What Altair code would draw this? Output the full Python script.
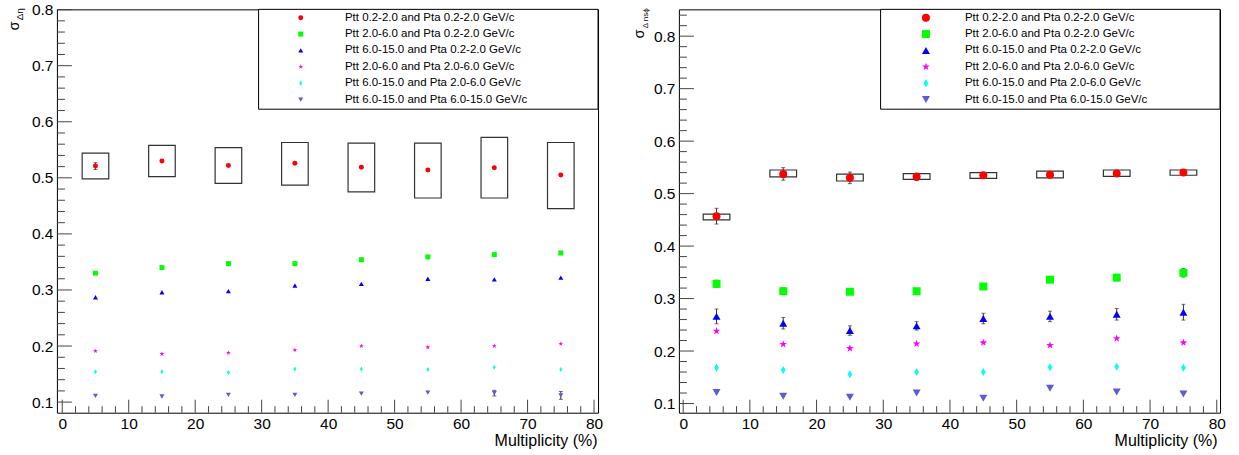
import altair as alt
import pandas as pd

FONT = "Liberation Sans"

MULT = [5, 15, 25, 35, 45, 55, 65, 75]
LABELS = [
    "Ptt 0.2-2.0 and Pta 0.2-2.0 GeV/c",
    "Ptt 2.0-6.0 and Pta 0.2-2.0 GeV/c",
    "Ptt 6.0-15.0 and Pta 0.2-2.0 GeV/c",
    "Ptt 2.0-6.0 and Pta 2.0-6.0 GeV/c",
    "Ptt 6.0-15.0 and Pta 2.0-6.0 GeV/c",
    "Ptt 6.0-15.0 and Pta 6.0-15.0 GeV/c",
]
COLORS = ["#ff0000", "#00ff00", "#0000ff", "#ff00ff", "#00ffff", "#5b5bdb"]
STAR = ("M0,-1L0.235,-0.324L0.951,-0.309L0.38,0.124L0.588,0.809L0,0.4"
        "L-0.588,0.809L-0.38,0.124L-0.951,-0.309L-0.235,-0.324Z")
THIN_DIAMOND = "M0,-1L0.6,0L0,1L-0.6,0Z"
SHAPES = ["circle", "square", "triangle-up", STAR, THIN_DIAMOND, "triangle-down"]

X_MAJOR = [0, 10, 20, 30, 40, 50, 60, 70, 80]
X_MINOR = [2, 4, 6, 8, 12, 14, 16, 18, 22, 24, 26, 28, 32, 34, 36, 38, 42, 44, 46, 48,
           52, 54, 56, 58, 62, 64, 66, 68, 72, 74, 76, 78]
Y_MAJOR = [0.1, 0.2, 0.3, 0.4, 0.5, 0.6, 0.7, 0.8]
Y_MINOR_LEFT = [0.12, 0.14, 0.16, 0.18, 0.22, 0.24, 0.26, 0.28, 0.32, 0.34, 0.36, 0.38,
                0.42, 0.44, 0.46, 0.48, 0.52, 0.54, 0.56, 0.58, 0.62, 0.64, 0.66, 0.68,
                0.72, 0.74, 0.76, 0.78]
Y_MINOR_RIGHT = Y_MINOR_LEFT + [0.82, 0.84]

# ---- left panel: sigma_{Delta eta}
L_RED = [0.521, 0.530, 0.522, 0.526, 0.519, 0.514, 0.518, 0.505]
L_RED_ERR = [0.006, 0, 0, 0, 0, 0, 0, 0]
L_RED_SYS_LO = [0.498, 0.502, 0.490, 0.487, 0.475, 0.464, 0.464, 0.445]
L_RED_SYS_HI = [0.544, 0.558, 0.554, 0.563, 0.562, 0.562, 0.572, 0.563]
L_GREEN = [0.330, 0.340, 0.347, 0.347, 0.354, 0.359, 0.363, 0.366]
L_BLUE = [0.287, 0.296, 0.298, 0.308, 0.311, 0.320, 0.319, 0.322]
L_MAGENTA = [0.191, 0.186, 0.188, 0.193, 0.200, 0.198, 0.200, 0.204]
L_CYAN = [0.154, 0.154, 0.153, 0.159, 0.159, 0.158, 0.162, 0.158]
L_PURPLE = [0.111, 0.110, 0.113, 0.113, 0.115, 0.117, 0.116, 0.112]
L_PURPLE_ERR = [0, 0, 0, 0, 0, 0, 0.005, 0.007]

# ---- right panel: sigma_{Delta ns phi}
R_RED = [0.457, 0.5375, 0.530, 0.532, 0.535, 0.536, 0.5385, 0.540]
R_RED_ERR = [0.015, 0.012, 0.011, 0.007, 0.005, 0.005, 0.005, 0.005]
R_RED_SYS_LO = [0.450, 0.532, 0.524, 0.527, 0.529, 0.530, 0.533, 0.535]
R_RED_SYS_HI = [0.461, 0.545, 0.537, 0.538, 0.540, 0.543, 0.545, 0.545]
R_GREEN = [0.328, 0.314, 0.313, 0.314, 0.323, 0.336, 0.340, 0.349]
R_GREEN_ERR = [0.007, 0.006, 0.004, 0.004, 0.003, 0.005, 0.006, 0.008]
R_BLUE = [0.266, 0.253, 0.239, 0.248, 0.262, 0.266, 0.270, 0.274]
R_BLUE_ERR = [0.014, 0.011, 0.009, 0.008, 0.010, 0.010, 0.011, 0.015]
R_MAGENTA = [0.238, 0.213, 0.205, 0.214, 0.216, 0.211, 0.224, 0.216]
R_CYAN = [0.168, 0.164, 0.156, 0.160, 0.160, 0.169, 0.170, 0.168]
R_PURPLE = [0.121, 0.114, 0.112, 0.120, 0.110, 0.129, 0.122, 0.118]

BOX_HALF = 2  # half width (in multiplicity units) of the systematic boxes
ZERO = [0] * 8

W, H = 542, 404


def points_df(series_vals, series_errs):
    rows = []
    for lab, vals, errs in zip(LABELS, series_vals, series_errs):
        for m, v, e in zip(MULT, vals, errs):
            rows.append({"mult": m, "series": lab, "value": v, "err": e,
                         "elo": v - e, "ehi": v + e})
    return pd.DataFrame(rows)


def sys_df(lo, hi):
    return pd.DataFrame({"xlo": [m - BOX_HALF for m in MULT],
                         "xhi": [m + BOX_HALF for m in MULT],
                         "lo": lo, "hi": hi})


def panel(series_vals, series_errs, sys_lo, sys_hi, x_dom, y_dom, y_minor,
          pt_size, leg_x, leg_y, leg_label_offset, title_x,
          sig_pos, sub_pos, sub_text, sub_size, anchor):
    xscale = alt.Scale(domain=x_dom, nice=False, zero=False)
    yscale = alt.Scale(domain=y_dom, nice=False, zero=False)
    xaxis = alt.Axis(values=X_MAJOR, format="d", labelFont=FONT, labelFontSize=15.5,
                     labelColor="black", labelPadding=16, labelBaseline="alphabetic",
                     labelFlush=False, ticks=False, tickSize=0, domain=False, grid=False,
                     title="Multiplicity (%)", titleFont=FONT, titleFontSize=16,
                     titleFontWeight="normal", titleColor="black", titleAlign="right",
                     titleAnchor="end", titleX=title_x, titleY=33,
                     titleBaseline="alphabetic")
    yaxis = alt.Axis(values=Y_MAJOR, format=".1f", labelFont=FONT, labelFontSize=15.5,
                     labelColor="black", labelPadding=4, labelFlush=False, ticks=False,
                     tickSize=0, domain=False, grid=False, title=None)

    def X(f):
        return alt.X(f, type="quantitative", scale=xscale, axis=xaxis)

    def Y(f):
        return alt.Y(f, type="quantitative", scale=yscale, axis=yaxis)

    one = pd.DataFrame({"k": [0]})
    pdf = points_df(series_vals, series_errs)
    edf = pdf[pdf["err"] > 0]

    legend = alt.Legend(orient="none", legendX=leg_x, legendY=leg_y, title=None,
                        labelFont=FONT, labelFontSize=11.5, labelColor="black",
                        labelLimit=400, symbolSize=pt_size, symbolStrokeWidth=0,
                        symbolOffset=0, labelOffset=leg_label_offset, rowPadding=3.4,
                        padding=0, direction="vertical")

    legend_box = alt.Chart(one).mark_rect(fill="white", stroke="black", strokeWidth=1).encode(
        x=alt.value(202), x2=alt.value(W), y=alt.value(0), y2=alt.value(100))

    boxes = alt.Chart(sys_df(sys_lo, sys_hi)).mark_rect(
        fill="transparent", stroke="#333333", strokeWidth=1.2).encode(
        x=X("xlo"), x2="xhi", y=Y("lo"), y2="hi")

    err_rules = alt.Chart(edf).mark_rule(color="#333333", strokeWidth=1).encode(
        x=X("mult"), y=Y("elo"), y2="ehi")
    cap_lo = alt.Chart(edf).mark_tick(orient="horizontal", size=4, thickness=1,
                                      color="#333333").encode(x=X("mult"), y=Y("elo"))
    cap_hi = alt.Chart(edf).mark_tick(orient="horizontal", size=4, thickness=1,
                                      color="#333333").encode(x=X("mult"), y=Y("ehi"))

    pts = alt.Chart(pdf).mark_point(filled=True, opacity=1, size=pt_size).encode(
        x=X("mult"), y=Y("value"),
        color=alt.Color("series:N", sort=LABELS,
                        scale=alt.Scale(domain=LABELS, range=COLORS), legend=legend),
        shape=alt.Shape("series:N", sort=LABELS,
                        scale=alt.Scale(domain=LABELS, range=SHAPES), legend=legend),
    )

    ymaj = alt.Chart(pd.DataFrame({"v": Y_MAJOR})).mark_rule(color="#444444").encode(
        y=Y("v"), x=alt.value(0), x2=alt.value(15))
    ymin = alt.Chart(pd.DataFrame({"v": y_minor})).mark_rule(color="#444444").encode(
        y=Y("v"), x=alt.value(0), x2=alt.value(8))
    xmaj = alt.Chart(pd.DataFrame({"v": X_MAJOR})).mark_rule(color="#444444").encode(
        x=X("v"), y=alt.value(H), y2=alt.value(H - 13))
    xmin = alt.Chart(pd.DataFrame({"v": X_MINOR})).mark_rule(color="#444444").encode(
        x=X("v"), y=alt.value(H), y2=alt.value(H - 6.5))

    sig = alt.Chart(one).mark_text(text="σ", angle=270, align="left",
                                   baseline="alphabetic", font=FONT, fontSize=14,
                                   color="black").encode(
        x=alt.value(sig_pos[0]), y=alt.value(sig_pos[1]))
    sub = alt.Chart(one).mark_text(text=sub_text, angle=270, align="left",
                                   baseline="alphabetic", font=FONT, fontSize=sub_size,
                                   color="black").encode(
        x=alt.value(sub_pos[0]), y=alt.value(sub_pos[1]))

    anc = alt.Chart(one).mark_rule(color="white", strokeWidth=1).encode(
        x=alt.value(anchor[0]), x2=alt.value(anchor[0] + 1),
        y=alt.value(anchor[1]), y2=alt.value(anchor[1]))

    return alt.layer(anc, legend_box, ymaj, ymin, xmaj, xmin, boxes, err_rules,
                     cap_lo, cap_hi, pts, sig, sub).properties(width=W, height=H)


left = panel(
    [L_RED, L_GREEN, L_BLUE, L_MAGENTA, L_CYAN, L_PURPLE],
    [L_RED_ERR, ZERO, ZERO, ZERO, ZERO, L_PURPLE_ERR],
    L_RED_SYS_LO, L_RED_SYS_HI,
    x_dom=[-0.8, 80.6], y_dom=[0.0811, 0.8005], y_minor=Y_MINOR_LEFT,
    pt_size=25, leg_x=238.5, leg_y=2.6, leg_label_offset=38.5, title_x=541,
    sig_pos=(-38, 21), sub_pos=(-34, 11), sub_text="Δη", sub_size=10,
    anchor=(-56, -8),
)

right = panel(
    [R_RED, R_GREEN, R_BLUE, R_MAGENTA, R_CYAN, R_PURPLE],
    [R_RED_ERR, R_GREEN_ERR, R_BLUE_ERR, ZERO, ZERO, ZERO],
    R_RED_SYS_LO, R_RED_SYS_HI,
    x_dom=[-0.64, 80.49], y_dom=[0.0825, 0.8511], y_minor=Y_MINOR_RIGHT,
    pt_size=64, leg_x=241.7, leg_y=2.6, leg_label_offset=33.3, title_x=539,
    sig_pos=(-35, 29), sub_pos=(-31, 19), sub_text="Δ nsϕ", sub_size=8,
    anchor=(W + 17, H + 43),
)

chart = alt.hconcat(left, right, spacing=81, bounds="flush").resolve_scale(
    color="independent", shape="independent"
).properties(padding=0).configure_view(stroke="black", strokeWidth=1)

chart.save("out.html", embed_options={"renderer": "svg", "actions": False})
